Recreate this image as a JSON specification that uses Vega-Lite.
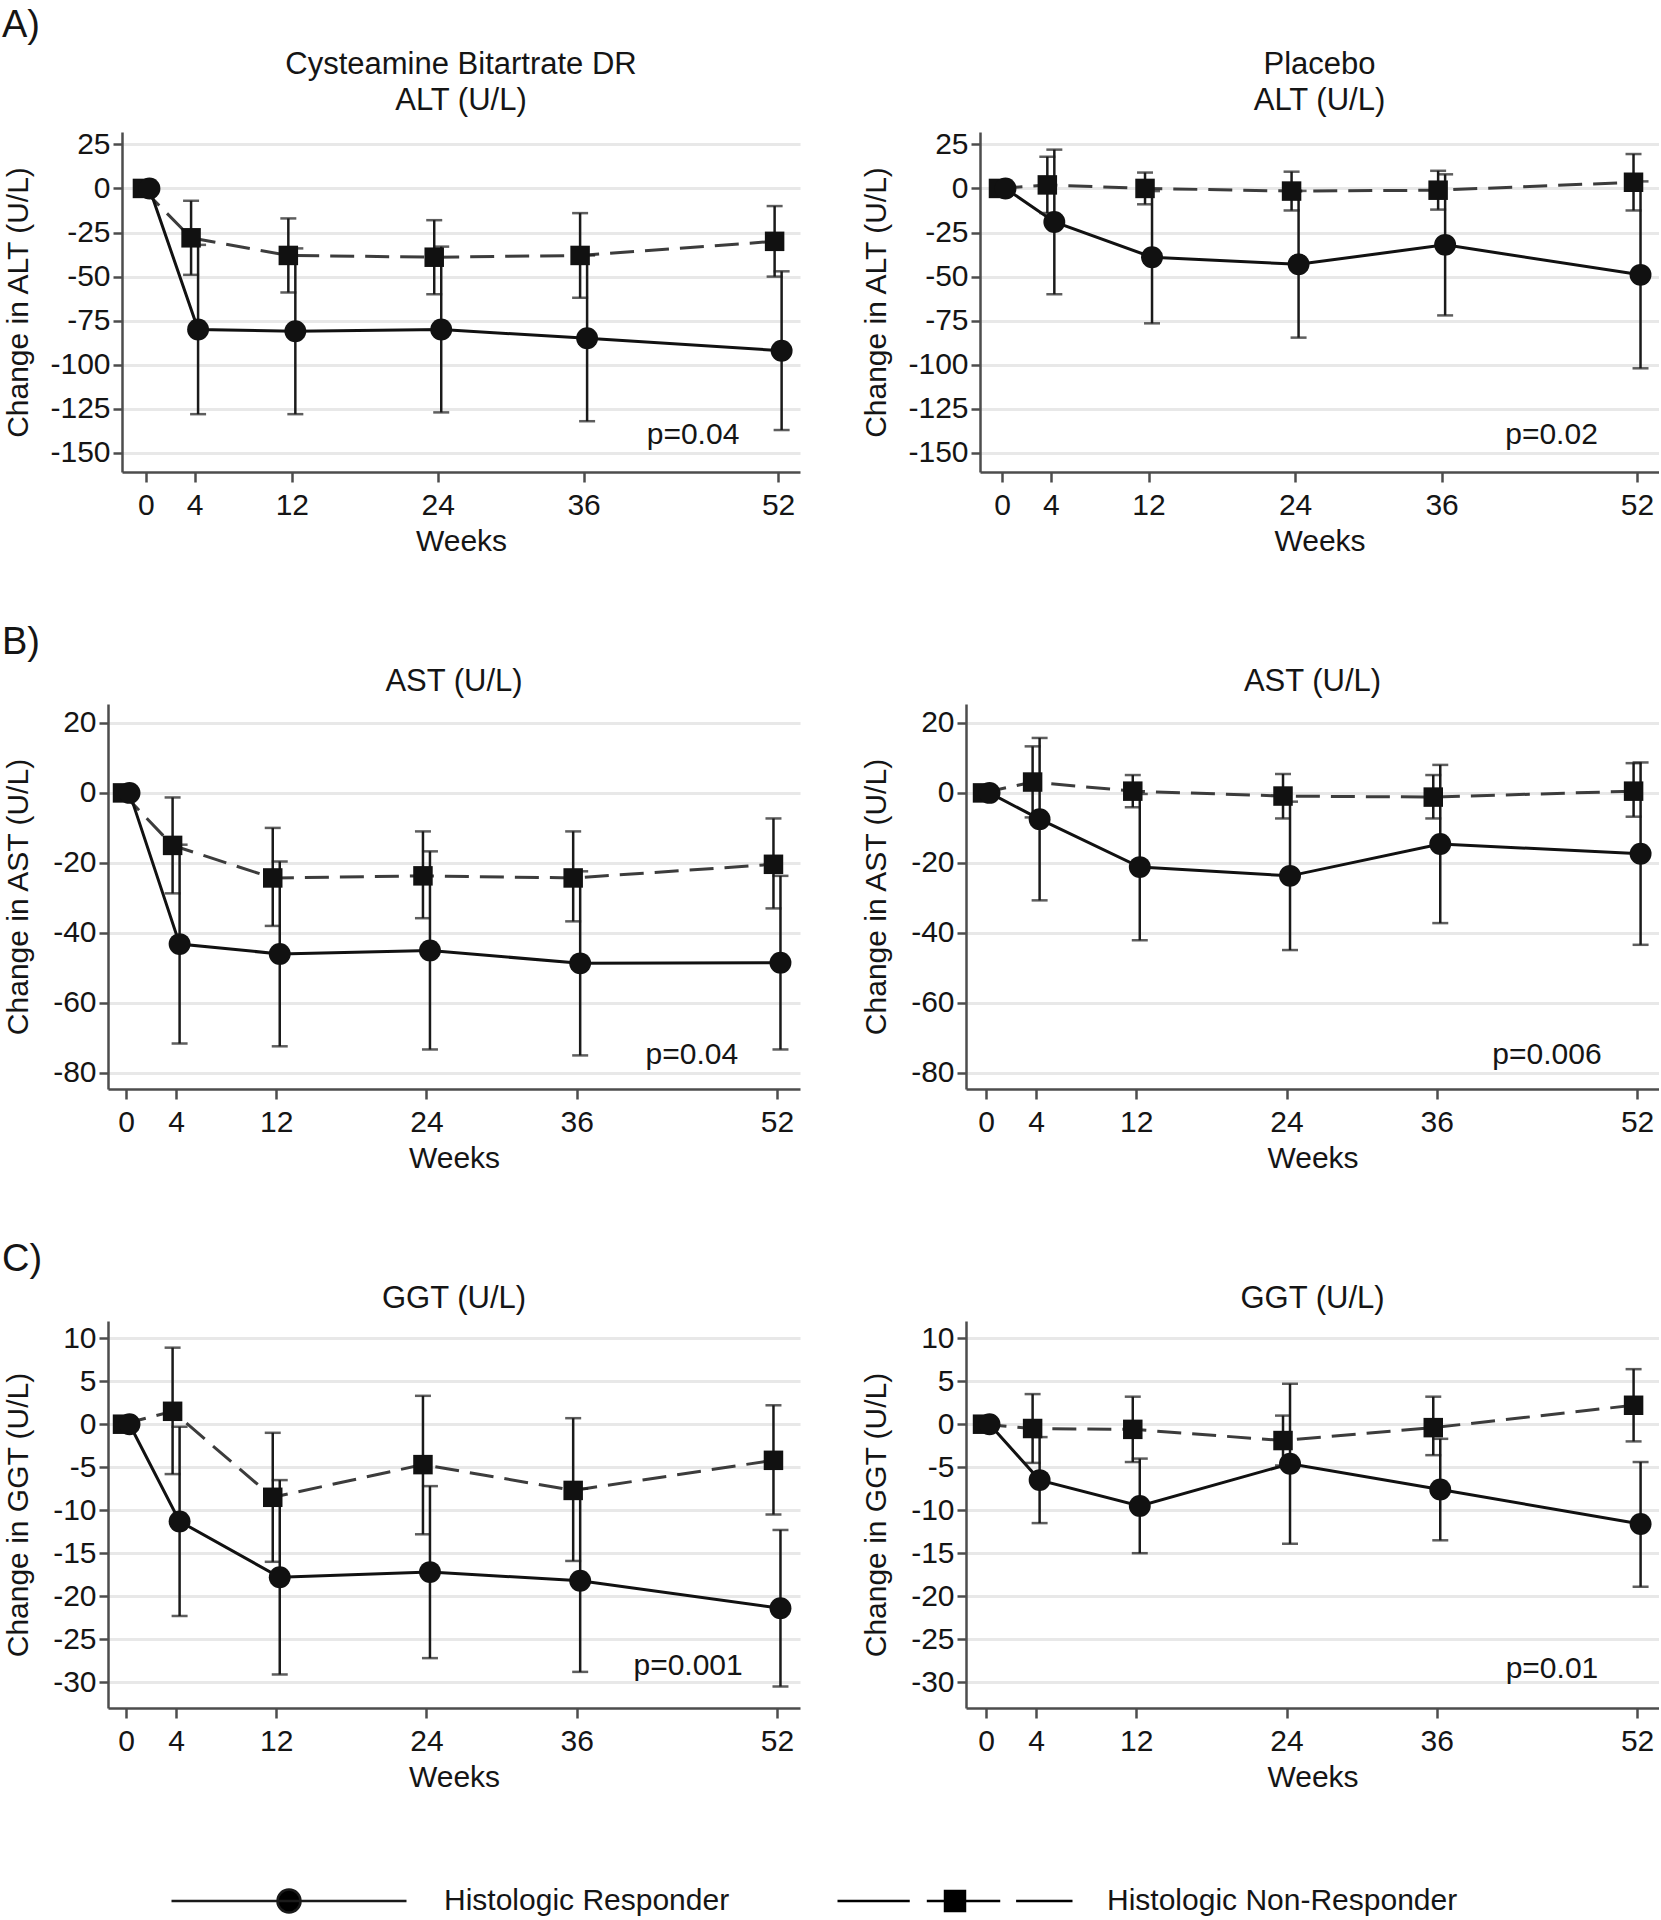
{
 "$schema": "https://vega.github.io/schema/vega-lite/v6.json",
 "padding": {"top": 7, "left": 2, "right": 0, "bottom": 0},
 "background": "white",
 "datasets": {
  "pts": [
   {"panel":"ALT_C","g":"R","week":0,"mean":0,"lo":null,"hi":null},
   {"panel":"ALT_C","g":"R","week":4,"mean":-80,"lo":-128,"hi":-32},
   {"panel":"ALT_C","g":"R","week":12,"mean":-81,"lo":-128,"hi":-34},
   {"panel":"ALT_C","g":"R","week":24,"mean":-80,"lo":-127,"hi":-33},
   {"panel":"ALT_C","g":"R","week":36,"mean":-85,"lo":-132,"hi":-38},
   {"panel":"ALT_C","g":"R","week":52,"mean":-92,"lo":-137,"hi":-47},
   {"panel":"ALT_C","g":"NR","week":0,"mean":0,"lo":null,"hi":null},
   {"panel":"ALT_C","g":"NR","week":4,"mean":-28,"lo":-49,"hi":-7},
   {"panel":"ALT_C","g":"NR","week":12,"mean":-38,"lo":-59,"hi":-17},
   {"panel":"ALT_C","g":"NR","week":24,"mean":-39,"lo":-60,"hi":-18},
   {"panel":"ALT_C","g":"NR","week":36,"mean":-38,"lo":-62,"hi":-14},
   {"panel":"ALT_C","g":"NR","week":52,"mean":-30,"lo":-50,"hi":-10},
   {"panel":"ALT_P","g":"R","week":0,"mean":0,"lo":null,"hi":null},
   {"panel":"ALT_P","g":"R","week":4,"mean":-19,"lo":-60,"hi":22},
   {"panel":"ALT_P","g":"R","week":12,"mean":-39,"lo":-76.5,"hi":-1.5},
   {"panel":"ALT_P","g":"R","week":24,"mean":-43,"lo":-84.6,"hi":-1.4},
   {"panel":"ALT_P","g":"R","week":36,"mean":-32,"lo":-72,"hi":8},
   {"panel":"ALT_P","g":"R","week":52,"mean":-49,"lo":-102,"hi":4},
   {"panel":"ALT_P","g":"NR","week":0,"mean":0,"lo":null,"hi":null},
   {"panel":"ALT_P","g":"NR","week":4,"mean":2,"lo":-14,"hi":18},
   {"panel":"ALT_P","g":"NR","week":12,"mean":0,"lo":-9,"hi":9},
   {"panel":"ALT_P","g":"NR","week":24,"mean":-1.5,"lo":-12.5,"hi":9.5},
   {"panel":"ALT_P","g":"NR","week":36,"mean":-1,"lo":-12,"hi":10},
   {"panel":"ALT_P","g":"NR","week":52,"mean":3.5,"lo":-12.5,"hi":19.5},
   {"panel":"AST_C","g":"R","week":0,"mean":0,"lo":null,"hi":null},
   {"panel":"AST_C","g":"R","week":4,"mean":-43.2,"lo":-71.6,"hi":-14.8},
   {"panel":"AST_C","g":"R","week":12,"mean":-46,"lo":-72.4,"hi":-19.6},
   {"panel":"AST_C","g":"R","week":24,"mean":-45,"lo":-73.3,"hi":-16.7},
   {"panel":"AST_C","g":"R","week":36,"mean":-48.7,"lo":-75,"hi":-22.4},
   {"panel":"AST_C","g":"R","week":52,"mean":-48.5,"lo":-73.3,"hi":-23.7},
   {"panel":"AST_C","g":"NR","week":0,"mean":0,"lo":null,"hi":null},
   {"panel":"AST_C","g":"NR","week":4,"mean":-15,"lo":-28.7,"hi":-1.3},
   {"panel":"AST_C","g":"NR","week":12,"mean":-24.3,"lo":-38,"hi":-10},
   {"panel":"AST_C","g":"NR","week":24,"mean":-23.7,"lo":-35.8,"hi":-11},
   {"panel":"AST_C","g":"NR","week":36,"mean":-24.3,"lo":-36.7,"hi":-11},
   {"panel":"AST_C","g":"NR","week":52,"mean":-20.4,"lo":-33,"hi":-7.3},
   {"panel":"AST_P","g":"R","week":0,"mean":0,"lo":null,"hi":null},
   {"panel":"AST_P","g":"R","week":4,"mean":-7.5,"lo":-30.7,"hi":15.7},
   {"panel":"AST_P","g":"R","week":12,"mean":-21.2,"lo":-42.1,"hi":-0.3},
   {"panel":"AST_P","g":"R","week":24,"mean":-23.7,"lo":-44.9,"hi":-2.5},
   {"panel":"AST_P","g":"R","week":36,"mean":-14.6,"lo":-37.2,"hi":8},
   {"panel":"AST_P","g":"R","week":52,"mean":-17.4,"lo":-43.4,"hi":8.7},
   {"panel":"AST_P","g":"NR","week":0,"mean":0,"lo":null,"hi":null},
   {"panel":"AST_P","g":"NR","week":4,"mean":3.1,"lo":-7,"hi":13.3},
   {"panel":"AST_P","g":"NR","week":12,"mean":0.5,"lo":-4.1,"hi":5.1},
   {"panel":"AST_P","g":"NR","week":24,"mean":-0.9,"lo":-7.3,"hi":5.4},
   {"panel":"AST_P","g":"NR","week":36,"mean":-1.2,"lo":-7.3,"hi":5.1},
   {"panel":"AST_P","g":"NR","week":52,"mean":0.5,"lo":-6.8,"hi":8.5},
   {"panel":"GGT_C","g":"R","week":0,"mean":0,"lo":null,"hi":null},
   {"panel":"GGT_C","g":"R","week":4,"mean":-11.3,"lo":-22.3,"hi":-0.3},
   {"panel":"GGT_C","g":"R","week":12,"mean":-17.8,"lo":-29.1,"hi":-6.5},
   {"panel":"GGT_C","g":"R","week":24,"mean":-17.2,"lo":-27.2,"hi":-7.2},
   {"panel":"GGT_C","g":"R","week":36,"mean":-18.2,"lo":-28.8,"hi":-7.5},
   {"panel":"GGT_C","g":"R","week":52,"mean":-21.4,"lo":-30.5,"hi":-12.3},
   {"panel":"GGT_C","g":"NR","week":0,"mean":0,"lo":null,"hi":null},
   {"panel":"GGT_C","g":"NR","week":4,"mean":1.5,"lo":-5.8,"hi":8.9},
   {"panel":"GGT_C","g":"NR","week":12,"mean":-8.5,"lo":-16,"hi":-1},
   {"panel":"GGT_C","g":"NR","week":24,"mean":-4.7,"lo":-12.8,"hi":3.3},
   {"panel":"GGT_C","g":"NR","week":36,"mean":-7.7,"lo":-15.9,"hi":0.7},
   {"panel":"GGT_C","g":"NR","week":52,"mean":-4.2,"lo":-10.5,"hi":2.2},
   {"panel":"GGT_P","g":"R","week":0,"mean":0,"lo":null,"hi":null},
   {"panel":"GGT_P","g":"R","week":4,"mean":-6.5,"lo":-11.5,"hi":-1.5},
   {"panel":"GGT_P","g":"R","week":12,"mean":-9.5,"lo":-15,"hi":-4},
   {"panel":"GGT_P","g":"R","week":24,"mean":-4.6,"lo":-13.9,"hi":4.7},
   {"panel":"GGT_P","g":"R","week":36,"mean":-7.6,"lo":-13.5,"hi":-1.7},
   {"panel":"GGT_P","g":"R","week":52,"mean":-11.6,"lo":-18.9,"hi":-4.4},
   {"panel":"GGT_P","g":"NR","week":0,"mean":0,"lo":null,"hi":null},
   {"panel":"GGT_P","g":"NR","week":4,"mean":-0.5,"lo":-4.5,"hi":3.5},
   {"panel":"GGT_P","g":"NR","week":12,"mean":-0.6,"lo":-4.4,"hi":3.2},
   {"panel":"GGT_P","g":"NR","week":24,"mean":-1.9,"lo":-4.8,"hi":1},
   {"panel":"GGT_P","g":"NR","week":36,"mean":-0.4,"lo":-3.6,"hi":3.2},
   {"panel":"GGT_P","g":"NR","week":52,"mean":2.2,"lo":-2,"hi":6.4}
  ],
  "pv": [
   {"panel":"ALT_C","week":45,"v":-140,"label":"p=0.04"},
   {"panel":"ALT_P","week":45,"v":-140,"label":"p=0.02"},
   {"panel":"AST_C","week":45.2,"v":-75,"label":"p=0.04"},
   {"panel":"AST_P","week":44.8,"v":-75,"label":"p=0.006"},
   {"panel":"GGT_C","week":44.9,"v":-28.1,"label":"p=0.001"},
   {"panel":"GGT_P","week":45.2,"v":-28.5,"label":"p=0.01"}
  ]
 },
 "columns": 1,
 "align": "none",
 "spacing": 68,
 "concat": [
  {
   "title": {"text": "A)", "anchor": "start", "fontSize": 38, "offset": 4},
   "spacing": 61,
   "hconcat": [
    {"spacing": 0, "hconcat": [
     {"width": 1, "height": 1, "data": {"values": []}, "mark": "point"},
     {
     "width": 678, "height": 340,
     "title": {"text": ["Cysteamine Bitartrate DR", "ALT (U/L)"], "offset": 12},
     "data": {"name": "pts"},
     "transform": [{"filter": "datum.panel == 'ALT_C'"}],
     "encoding": {"x": {"field": "week", "type": "quantitative", "scale": {"domain": [-1.97, 53.8], "nice": false, "zero": false}, "axis": {"values": [0,4,12,24,36,52], "title": "Weeks"}}},
     "layer": [
      {"transform": [{"filter": "datum.g == 'NR'"}], "mark": {"type": "line", "xOffset": -3.5, "color": "#3c3c3c", "strokeWidth": 3, "strokeDash": [24, 11]},
       "encoding": {"y": {"field": "mean", "type": "quantitative", "scale": {"domain": [-160.8, 32], "nice": false, "zero": false}, "axis": {"values": [-150,-125,-100,-75,-50,-25,0,25], "title": "Change in ALT (U/L)", "labelExpr": "'' + datum.value"}}}},
      {"transform": [{"filter": "datum.g == 'R'"}], "mark": {"type": "line", "xOffset": 3.5, "color": "#111", "strokeWidth": 3},
       "encoding": {"y": {"field": "mean", "type": "quantitative"}}},
      {"transform": [{"filter": "datum.g == 'NR'"}], "mark": {"type": "rule", "xOffset": -3.5},
       "encoding": {"y": {"field": "lo", "type": "quantitative"}, "y2": {"field": "hi"},
        "opacity": {"field": "g", "type": "nominal", "scale": {"domain": ["NR"], "range": [1]},
         "legend": {"orient": "none", "legendX": 834, "legendY": 1650, "title": null, "padding": 0, "symbolType": "M-1,0 H-0.385 M-0.24,0 H0.385 M0.52,0 H1 M-0.085,-0.085 H0.085 V0.085 H-0.085 Z", "symbolSize": 55225, "symbolFillColor": "#000", "symbolStrokeColor": "#000", "symbolOpacity": 1, "labelFontSize": 30, "labelFont": "Liberation Sans", "labelColor": "#151515", "labelOffset": 33, "labelLimit": 800, "labelExpr": "'Histologic Non-Responder'"}}}},
      {"transform": [{"filter": "datum.g == 'R'"}], "mark": {"type": "rule", "xOffset": 3.5},
       "encoding": {"y": {"field": "lo", "type": "quantitative"}, "y2": {"field": "hi"},
        "color": {"field": "g", "type": "nominal", "scale": {"domain": ["R"], "range": ["#1a1a1a"]},
         "legend": {"orient": "none", "legendX": 168, "legendY": 1650, "title": null, "padding": 0, "symbolType": "M-1,0 H1 M0.098,0 C0.098,0.054 0.054,0.098 0,0.098 C-0.054,0.098 -0.098,0.054 -0.098,0 C-0.098,-0.054 -0.054,-0.098 0,-0.098 C0.054,-0.098 0.098,-0.054 0.098,0 Z", "symbolSize": 55225, "symbolFillColor": "#000", "labelFontSize": 30, "labelFont": "Liberation Sans", "labelColor": "#151515", "labelOffset": 36, "labelLimit": 800, "labelExpr": "'Histologic Responder'"}}}},
      {"transform": [{"filter": "datum.g == 'NR'"}, {"fold": ["lo","hi"], "as": ["k","v"]}], "mark": {"type": "tick", "orient": "horizontal", "xOffset": -3.5, "size": 16}, "encoding": {"y": {"field": "v", "type": "quantitative"}}},
      {"transform": [{"filter": "datum.g == 'R'"}, {"fold": ["lo","hi"], "as": ["k","v"]}], "mark": {"type": "tick", "orient": "horizontal", "xOffset": 3.5, "size": 16}, "encoding": {"y": {"field": "v", "type": "quantitative"}}},
      {"transform": [{"filter": "datum.g == 'NR'"}], "mark": {"type": "point", "shape": "square", "filled": true, "size": 380, "xOffset": -3.5}, "encoding": {"y": {"field": "mean", "type": "quantitative"}}},
      {"transform": [{"filter": "datum.g == 'R'"}], "mark": {"type": "point", "shape": "circle", "filled": true, "size": 480, "xOffset": 3.5}, "encoding": {"y": {"field": "mean", "type": "quantitative"}}},
      {"data": {"name": "pv"}, "transform": [{"filter": "datum.panel == 'ALT_C'"}], "mark": {"type": "text", "fontSize": 30}, "encoding": {"y": {"field": "v", "type": "quantitative"}, "text": {"field": "label"}}}
     ]
    }]},
    {
     "width": 679, "height": 340,
     "title": {"text": ["Placebo", "ALT (U/L)"], "offset": 12},
     "data": {"name": "pts"},
     "transform": [{"filter": "datum.panel == 'ALT_P'"}],
     "encoding": {"x": {"field": "week", "type": "quantitative", "scale": {"domain": [-1.8, 53.8], "nice": false, "zero": false}, "axis": {"values": [0,4,12,24,36,52], "title": "Weeks"}}},
     "layer": [
      {"transform": [{"filter": "datum.g == 'NR'"}], "mark": {"type": "line", "xOffset": -3.5, "color": "#3c3c3c", "strokeWidth": 3, "strokeDash": [24, 11]},
       "encoding": {"y": {"field": "mean", "type": "quantitative", "scale": {"domain": [-160.8, 32], "nice": false, "zero": false}, "axis": {"values": [-150,-125,-100,-75,-50,-25,0,25], "title": "Change in ALT (U/L)", "labelExpr": "'' + datum.value"}}}},
      {"transform": [{"filter": "datum.g == 'R'"}], "mark": {"type": "line", "xOffset": 3.5, "color": "#111", "strokeWidth": 3}, "encoding": {"y": {"field": "mean", "type": "quantitative"}}},
      {"transform": [{"filter": "datum.g == 'NR'"}], "mark": {"type": "rule", "xOffset": -3.5}, "encoding": {"y": {"field": "lo", "type": "quantitative"}, "y2": {"field": "hi"}}},
      {"transform": [{"filter": "datum.g == 'R'"}], "mark": {"type": "rule", "xOffset": 3.5}, "encoding": {"y": {"field": "lo", "type": "quantitative"}, "y2": {"field": "hi"}}},
      {"transform": [{"filter": "datum.g == 'NR'"}, {"fold": ["lo","hi"], "as": ["k","v"]}], "mark": {"type": "tick", "orient": "horizontal", "xOffset": -3.5, "size": 16}, "encoding": {"y": {"field": "v", "type": "quantitative"}}},
      {"transform": [{"filter": "datum.g == 'R'"}, {"fold": ["lo","hi"], "as": ["k","v"]}], "mark": {"type": "tick", "orient": "horizontal", "xOffset": 3.5, "size": 16}, "encoding": {"y": {"field": "v", "type": "quantitative"}}},
      {"transform": [{"filter": "datum.g == 'NR'"}], "mark": {"type": "point", "shape": "square", "filled": true, "size": 380, "xOffset": -3.5}, "encoding": {"y": {"field": "mean", "type": "quantitative"}}},
      {"transform": [{"filter": "datum.g == 'R'"}], "mark": {"type": "point", "shape": "circle", "filled": true, "size": 480, "xOffset": 3.5}, "encoding": {"y": {"field": "mean", "type": "quantitative"}}},
      {"data": {"name": "pv"}, "transform": [{"filter": "datum.panel == 'ALT_P'"}], "mark": {"type": "text", "fontSize": 30}, "encoding": {"y": {"field": "v", "type": "quantitative"}, "text": {"field": "label"}}}
     ]
    }
   ]
  },
  {
   "title": {"text": "B)", "anchor": "start", "fontSize": 38, "offset": 4},
   "spacing": 61,
   "hconcat": [
    {"spacing": 0, "hconcat": [
     {"width": 1, "height": 1, "data": {"values": []}, "mark": "point"},
     {
     "width": 692, "height": 385,
     "title": {"text": "AST (U/L)", "offset": 6},
     "data": {"name": "pts"},
     "transform": [{"filter": "datum.panel == 'AST_C'"}],
     "encoding": {"x": {"field": "week", "type": "quantitative", "scale": {"domain": [-1.44, 53.84], "nice": false, "zero": false}, "axis": {"values": [0,4,12,24,36,52], "title": "Weeks"}}},
     "layer": [
      {"transform": [{"filter": "datum.g == 'NR'"}], "mark": {"type": "line", "xOffset": -3.5, "color": "#3c3c3c", "strokeWidth": 3, "strokeDash": [24, 11]},
       "encoding": {"y": {"field": "mean", "type": "quantitative", "scale": {"domain": [-84.6, 25.4], "nice": false, "zero": false}, "axis": {"values": [-80,-60,-40,-20,0,20], "title": "Change in AST (U/L)", "minExtent": 59, "labelExpr": "'' + datum.value"}}}},
      {"transform": [{"filter": "datum.g == 'R'"}], "mark": {"type": "line", "xOffset": 3.5, "color": "#111", "strokeWidth": 3}, "encoding": {"y": {"field": "mean", "type": "quantitative"}}},
      {"transform": [{"filter": "datum.g == 'NR'"}], "mark": {"type": "rule", "xOffset": -3.5}, "encoding": {"y": {"field": "lo", "type": "quantitative"}, "y2": {"field": "hi"}}},
      {"transform": [{"filter": "datum.g == 'R'"}], "mark": {"type": "rule", "xOffset": 3.5}, "encoding": {"y": {"field": "lo", "type": "quantitative"}, "y2": {"field": "hi"}}},
      {"transform": [{"filter": "datum.g == 'NR'"}, {"fold": ["lo","hi"], "as": ["k","v"]}], "mark": {"type": "tick", "orient": "horizontal", "xOffset": -3.5, "size": 16}, "encoding": {"y": {"field": "v", "type": "quantitative"}}},
      {"transform": [{"filter": "datum.g == 'R'"}, {"fold": ["lo","hi"], "as": ["k","v"]}], "mark": {"type": "tick", "orient": "horizontal", "xOffset": 3.5, "size": 16}, "encoding": {"y": {"field": "v", "type": "quantitative"}}},
      {"transform": [{"filter": "datum.g == 'NR'"}], "mark": {"type": "point", "shape": "square", "filled": true, "size": 380, "xOffset": -3.5}, "encoding": {"y": {"field": "mean", "type": "quantitative"}}},
      {"transform": [{"filter": "datum.g == 'R'"}], "mark": {"type": "point", "shape": "circle", "filled": true, "size": 480, "xOffset": 3.5}, "encoding": {"y": {"field": "mean", "type": "quantitative"}}},
      {"data": {"name": "pv"}, "transform": [{"filter": "datum.panel == 'AST_C'"}], "mark": {"type": "text", "fontSize": 30}, "encoding": {"y": {"field": "v", "type": "quantitative"}, "text": {"field": "label"}}}
     ]
    }]},
    {
     "width": 693, "height": 385,
     "title": {"text": "AST (U/L)", "offset": 6},
     "data": {"name": "pts"},
     "transform": [{"filter": "datum.panel == 'AST_P'"}],
     "encoding": {"x": {"field": "week", "type": "quantitative", "scale": {"domain": [-1.6, 53.75], "nice": false, "zero": false}, "axis": {"values": [0,4,12,24,36,52], "title": "Weeks"}}},
     "layer": [
      {"transform": [{"filter": "datum.g == 'NR'"}], "mark": {"type": "line", "xOffset": -3.5, "color": "#3c3c3c", "strokeWidth": 3, "strokeDash": [24, 11]},
       "encoding": {"y": {"field": "mean", "type": "quantitative", "scale": {"domain": [-84.6, 25.4], "nice": false, "zero": false}, "axis": {"values": [-80,-60,-40,-20,0,20], "title": "Change in AST (U/L)", "minExtent": 59, "labelExpr": "'' + datum.value"}}}},
      {"transform": [{"filter": "datum.g == 'R'"}], "mark": {"type": "line", "xOffset": 3.5, "color": "#111", "strokeWidth": 3}, "encoding": {"y": {"field": "mean", "type": "quantitative"}}},
      {"transform": [{"filter": "datum.g == 'NR'"}], "mark": {"type": "rule", "xOffset": -3.5}, "encoding": {"y": {"field": "lo", "type": "quantitative"}, "y2": {"field": "hi"}}},
      {"transform": [{"filter": "datum.g == 'R'"}], "mark": {"type": "rule", "xOffset": 3.5}, "encoding": {"y": {"field": "lo", "type": "quantitative"}, "y2": {"field": "hi"}}},
      {"transform": [{"filter": "datum.g == 'NR'"}, {"fold": ["lo","hi"], "as": ["k","v"]}], "mark": {"type": "tick", "orient": "horizontal", "xOffset": -3.5, "size": 16}, "encoding": {"y": {"field": "v", "type": "quantitative"}}},
      {"transform": [{"filter": "datum.g == 'R'"}, {"fold": ["lo","hi"], "as": ["k","v"]}], "mark": {"type": "tick", "orient": "horizontal", "xOffset": 3.5, "size": 16}, "encoding": {"y": {"field": "v", "type": "quantitative"}}},
      {"transform": [{"filter": "datum.g == 'NR'"}], "mark": {"type": "point", "shape": "square", "filled": true, "size": 380, "xOffset": -3.5}, "encoding": {"y": {"field": "mean", "type": "quantitative"}}},
      {"transform": [{"filter": "datum.g == 'R'"}], "mark": {"type": "point", "shape": "circle", "filled": true, "size": 480, "xOffset": 3.5}, "encoding": {"y": {"field": "mean", "type": "quantitative"}}},
      {"data": {"name": "pv"}, "transform": [{"filter": "datum.panel == 'AST_P'"}], "mark": {"type": "text", "fontSize": 30}, "encoding": {"y": {"field": "v", "type": "quantitative"}, "text": {"field": "label"}}}
     ]
    }
   ]
  },
  {
   "title": {"text": "C)", "anchor": "start", "fontSize": 38, "offset": 4},
   "spacing": 61,
   "hconcat": [
    {"spacing": 0, "hconcat": [
     {"width": 1, "height": 1, "data": {"values": []}, "mark": "point"},
     {
     "width": 692, "height": 387,
     "title": {"text": "GGT (U/L)", "offset": 6},
     "data": {"name": "pts"},
     "transform": [{"filter": "datum.panel == 'GGT_C'"}],
     "encoding": {"x": {"field": "week", "type": "quantitative", "scale": {"domain": [-1.44, 53.84], "nice": false, "zero": false}, "axis": {"values": [0,4,12,24,36,52], "title": "Weeks"}}},
     "layer": [
      {"transform": [{"filter": "datum.g == 'NR'"}], "mark": {"type": "line", "xOffset": -3.5, "color": "#3c3c3c", "strokeWidth": 3, "strokeDash": [24, 11]},
       "encoding": {"y": {"field": "mean", "type": "quantitative", "scale": {"domain": [-33, 12], "nice": false, "zero": false}, "axis": {"values": [-30,-25,-20,-15,-10,-5,0,5,10], "title": "Change in GGT (U/L)", "minExtent": 59, "labelExpr": "'' + datum.value"}}}},
      {"transform": [{"filter": "datum.g == 'R'"}], "mark": {"type": "line", "xOffset": 3.5, "color": "#111", "strokeWidth": 3}, "encoding": {"y": {"field": "mean", "type": "quantitative"}}},
      {"transform": [{"filter": "datum.g == 'NR'"}], "mark": {"type": "rule", "xOffset": -3.5}, "encoding": {"y": {"field": "lo", "type": "quantitative"}, "y2": {"field": "hi"}}},
      {"transform": [{"filter": "datum.g == 'R'"}], "mark": {"type": "rule", "xOffset": 3.5}, "encoding": {"y": {"field": "lo", "type": "quantitative"}, "y2": {"field": "hi"}}},
      {"transform": [{"filter": "datum.g == 'NR'"}, {"fold": ["lo","hi"], "as": ["k","v"]}], "mark": {"type": "tick", "orient": "horizontal", "xOffset": -3.5, "size": 16}, "encoding": {"y": {"field": "v", "type": "quantitative"}}},
      {"transform": [{"filter": "datum.g == 'R'"}, {"fold": ["lo","hi"], "as": ["k","v"]}], "mark": {"type": "tick", "orient": "horizontal", "xOffset": 3.5, "size": 16}, "encoding": {"y": {"field": "v", "type": "quantitative"}}},
      {"transform": [{"filter": "datum.g == 'NR'"}], "mark": {"type": "point", "shape": "square", "filled": true, "size": 380, "xOffset": -3.5}, "encoding": {"y": {"field": "mean", "type": "quantitative"}}},
      {"transform": [{"filter": "datum.g == 'R'"}], "mark": {"type": "point", "shape": "circle", "filled": true, "size": 480, "xOffset": 3.5}, "encoding": {"y": {"field": "mean", "type": "quantitative"}}},
      {"data": {"name": "pv"}, "transform": [{"filter": "datum.panel == 'GGT_C'"}], "mark": {"type": "text", "fontSize": 30}, "encoding": {"y": {"field": "v", "type": "quantitative"}, "text": {"field": "label"}}}
     ]
    }]},
    {
     "width": 693, "height": 387,
     "title": {"text": "GGT (U/L)", "offset": 6},
     "data": {"name": "pts"},
     "transform": [{"filter": "datum.panel == 'GGT_P'"}],
     "encoding": {"x": {"field": "week", "type": "quantitative", "scale": {"domain": [-1.6, 53.75], "nice": false, "zero": false}, "axis": {"values": [0,4,12,24,36,52], "title": "Weeks"}}},
     "layer": [
      {"transform": [{"filter": "datum.g == 'NR'"}], "mark": {"type": "line", "xOffset": -3.5, "color": "#3c3c3c", "strokeWidth": 3, "strokeDash": [24, 11]},
       "encoding": {"y": {"field": "mean", "type": "quantitative", "scale": {"domain": [-33, 12], "nice": false, "zero": false}, "axis": {"values": [-30,-25,-20,-15,-10,-5,0,5,10], "title": "Change in GGT (U/L)", "minExtent": 59, "labelExpr": "'' + datum.value"}}}},
      {"transform": [{"filter": "datum.g == 'R'"}], "mark": {"type": "line", "xOffset": 3.5, "color": "#111", "strokeWidth": 3}, "encoding": {"y": {"field": "mean", "type": "quantitative"}}},
      {"transform": [{"filter": "datum.g == 'NR'"}], "mark": {"type": "rule", "xOffset": -3.5}, "encoding": {"y": {"field": "lo", "type": "quantitative"}, "y2": {"field": "hi"}}},
      {"transform": [{"filter": "datum.g == 'R'"}], "mark": {"type": "rule", "xOffset": 3.5}, "encoding": {"y": {"field": "lo", "type": "quantitative"}, "y2": {"field": "hi"}}},
      {"transform": [{"filter": "datum.g == 'NR'"}, {"fold": ["lo","hi"], "as": ["k","v"]}], "mark": {"type": "tick", "orient": "horizontal", "xOffset": -3.5, "size": 16}, "encoding": {"y": {"field": "v", "type": "quantitative"}}},
      {"transform": [{"filter": "datum.g == 'R'"}, {"fold": ["lo","hi"], "as": ["k","v"]}], "mark": {"type": "tick", "orient": "horizontal", "xOffset": 3.5, "size": 16}, "encoding": {"y": {"field": "v", "type": "quantitative"}}},
      {"transform": [{"filter": "datum.g == 'NR'"}], "mark": {"type": "point", "shape": "square", "filled": true, "size": 380, "xOffset": -3.5}, "encoding": {"y": {"field": "mean", "type": "quantitative"}}},
      {"transform": [{"filter": "datum.g == 'R'"}], "mark": {"type": "point", "shape": "circle", "filled": true, "size": 480, "xOffset": 3.5}, "encoding": {"y": {"field": "mean", "type": "quantitative"}}},
      {"data": {"name": "pv"}, "transform": [{"filter": "datum.panel == 'GGT_P'"}], "mark": {"type": "text", "fontSize": 30}, "encoding": {"y": {"field": "v", "type": "quantitative"}, "text": {"field": "label"}}}
     ]
    }
   ]
  }
 ],
 "config": {
  "font": "Liberation Sans",
  "view": {"stroke": null},
  "axis": {"labelFont": "Liberation Sans", "titleFont": "Liberation Sans", "labelFontSize": 30, "titleFontSize": 30, "titleFontWeight": "normal", "labelColor": "#151515", "titleColor": "#151515", "domainColor": "#4d4d4d", "domainWidth": 2.5, "tickColor": "#4d4d4d", "tickWidth": 2.5, "labelOverlap": false, "labelFlush": false, "grid": false},
  "axisY": {"grid": true, "gridColor": "#e8e8e8", "gridWidth": 3, "tickSize": 9, "labelPadding": 3, "titlePadding": 16},
  "axisX": {"tickSize": 10, "labelPadding": 8, "titlePadding": 6},
  "title": {"font": "Liberation Sans", "fontSize": 31, "fontWeight": "normal", "color": "#151515", "lineHeight": 36},
  "rule": {"color": "#1a1a1a", "strokeWidth": 2.5},
  "tick": {"color": "#1a1a1a", "thickness": 2.5},
  "point": {"color": "#111", "opacity": 1},
  "text": {"color": "#151515", "font": "Liberation Sans"}
 }
}
